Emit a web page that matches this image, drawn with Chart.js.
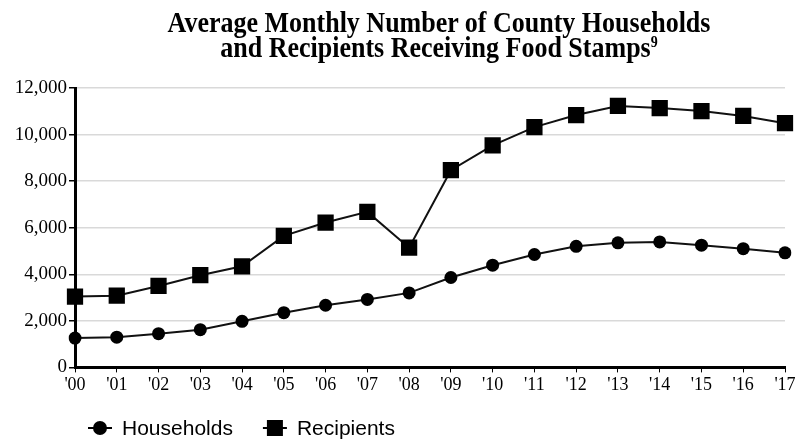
<!DOCTYPE html>
<html>
<head>
<meta charset="utf-8">
<script src="https://cdn.jsdelivr.net/npm/chart.js@4"></script>
<style>
  html, body { margin: 0; padding: 0; background: #fff; }
  #wrap { position: relative; width: 798px; height: 442px; }
  #title {
    position: absolute; left: 0; top: 11px; width: 878px;
    text-align: center; font-family: "Liberation Serif", serif;
    font-weight: bold; font-size: 26px; line-height: 22px; color: #000;
    transform: scaleY(1.12); transform-origin: 0 0;
  }
  #title sup { font-size: 14px; vertical-align: 9px; line-height: 0; }
  canvas { position: absolute; left: 0; top: 0; }
</style>
</head>
<body>
<div id="wrap">
  <canvas id="chart" width="798" height="442"></canvas>
  <div id="title">Average Monthly Number of County Households<br>and Recipients Receiving Food Stamps<sup>9</sup></div>
</div>
<script>
const years = ["'00", "'01", "'02", "'03", "'04", "'05", "'06", "'07", "'08",
  "'09", "'10", "'11", "'12", "'13", "'14", "'15", "'16", "'17"];
const households = [1260, 1300, 1450, 1620, 1980, 2350, 2670, 2920, 3200,
  3860, 4390, 4850, 5200, 5350, 5390, 5250, 5100, 4920];
const recipients = [3040, 3080, 3500, 3960, 4340, 5650, 6220, 6680, 5140,
  8470, 9540, 10320, 10840, 11230, 11140, 11010, 10800, 10490];
const yTicks = [0, 2000, 4000, 6000, 8000, 10000, 12000];

// legend drawn under the plot: a short line through the marker, then the label
const lineLegend = {
  id: 'lineLegend',
  afterDraw(c) {
    const ctx = c.ctx;
    let x = 88;
    const y = 428;
    ctx.save();
    ctx.font = '21px "Liberation Sans", Arial, sans-serif';
    ctx.textBaseline = 'middle';
    c.data.datasets.forEach(ds => {
      ctx.strokeStyle = '#000';
      ctx.lineWidth = 2;
      ctx.beginPath();
      ctx.moveTo(x, y);
      ctx.lineTo(x + 24, y);
      ctx.stroke();
      ctx.fillStyle = '#000';
      if (ds.pointStyle === 'rect') {
        ctx.fillRect(x + 12 - 8, y - 8, 16, 16);
      } else {
        ctx.beginPath();
        ctx.arc(x + 12, y, 7, 0, Math.PI * 2);
        ctx.fill();
      }
      ctx.fillText(ds.label, x + 34, y + 1);
      x += 34 + ctx.measureText(ds.label).width + 30;
    });
    ctx.restore();
  }
};

new Chart(document.getElementById('chart'), {
  type: 'line',
  data: {
    labels: years,
    datasets: [{
      label: 'Households',
      data: households,
      borderColor: '#111',
      backgroundColor: '#000',
      borderWidth: 2,
      pointStyle: 'circle',
      pointRadius: 6.5,
      pointBorderWidth: 0
    }, {
      label: 'Recipients',
      data: recipients,
      borderColor: '#111',
      backgroundColor: '#000',
      borderWidth: 2,
      pointStyle: 'rect',
      pointRadius: 11.5,
      pointBorderWidth: 0
    }]
  },
  options: {
    responsive: false,
    animation: false,
    layout: { padding: { top: 88, left: 8, right: 13, bottom: 44 } },
    plugins: {
      legend: { display: false },
      tooltip: { enabled: false }
    },
    scales: {
      x: {
        offset: false,
        border: { color: '#000', width: 3 },
        grid: { drawOnChartArea: false, tickColor: '#000', tickLength: 5, lineWidth: 1 },
        ticks: {
          color: '#000', padding: 2, maxRotation: 0, autoSkip: false,
          font: { family: '"Liberation Serif", serif', size: 18 }
        }
      },
      y: {
        min: 0,
        max: 12000,
        afterFit(s) { s.width = 67; },
        afterBuildTicks(s) { s.ticks = yTicks.map(v => ({ value: v })); },
        border: { color: '#000', width: 3 },
        grid: { color: '#d9d9d9', lineWidth: 1.5, tickColor: '#000', tickLength: 6 },
        ticks: {
          color: '#000', padding: 2,
          font: { family: '"Liberation Serif", serif', size: 19 },
          callback: v => v.toLocaleString('en-US')
        }
      }
    }
  },
  plugins: [lineLegend]
});
</script>
</body>
</html>
